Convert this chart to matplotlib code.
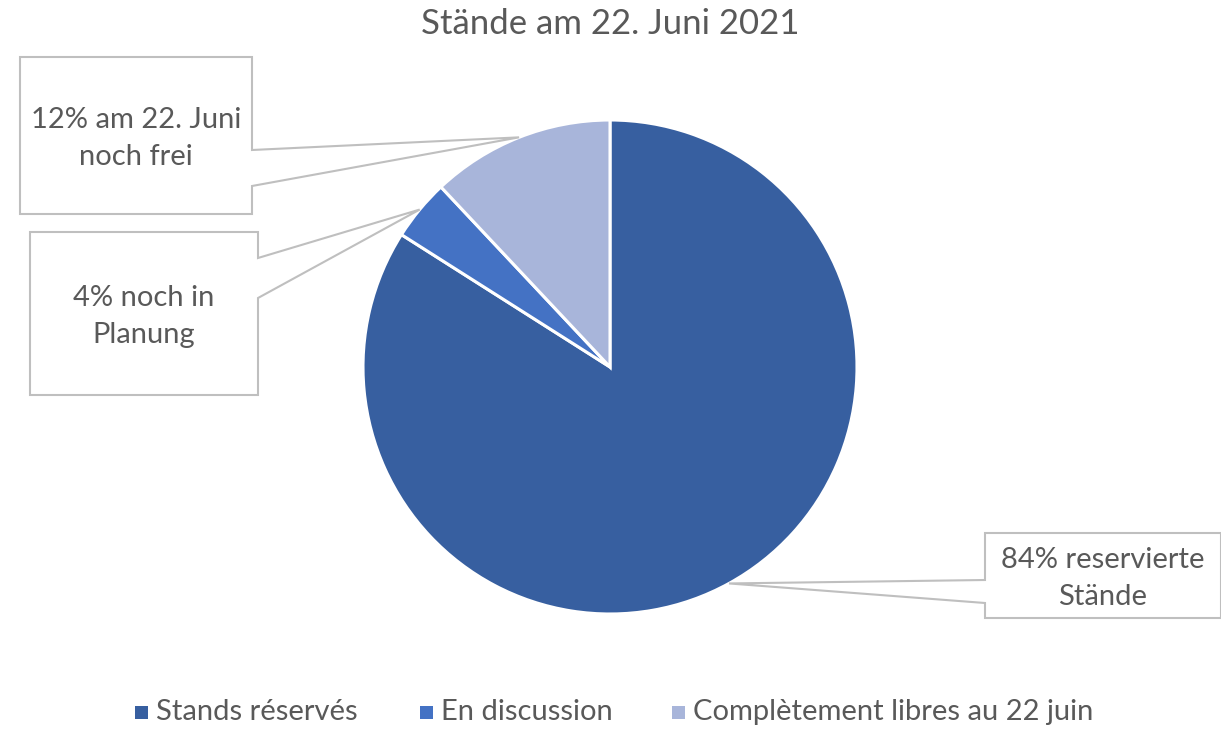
import matplotlib
matplotlib.use("Agg")
import matplotlib.pyplot as plt
from matplotlib.patches import Polygon, Rectangle
import numpy as np

# ---- data ----
title = "Stände am 22. Juni 2021"
categories = ["Stands réservés", "En discussion", "Complètement libres au 22 juin"]
values = [84, 4, 12]
labels = ["84% reservierte\nStände", "4% noch in\nPlanung", "12% am 22. Juni\nnoch frei"]
colors = ["#375FA0", "#4472C4", "#A8B5DA"]

plt.rcParams['font.family'] = ['Lato', 'DejaVu Sans']
TXT = "#595959"
EDGE = "#BFBFBF"

W, H = 1221, 729
fig = plt.figure(figsize=(W / 100, H / 100), dpi=100)
ax = fig.add_axes([0, 0, 1, 1])

cx, cy, R = 610, H - 367, 247
wedges, _ = ax.pie(values, colors=colors, startangle=90, counterclock=False,
                   center=(cx, cy), radius=R, frame=True,
                   wedgeprops=dict(edgecolor="white", linewidth=2.2))
ax.set_xlim(0, W)
ax.set_ylim(0, H)
ax.set_aspect("equal")
ax.axis("off")

# label boxes (pixel coords, y from top): left, top, right, bottom, side, wedge base y1, y2
boxes = [
    (985, 533, 1221, 618, "left", 580, 603),   # 84%
    (30, 232, 258, 395, "right", 258, 298),    # 4%
    (20, 57, 252, 214, "right", 150, 186),     # 12%
]

for w, lab, (l, t, r, b, side, y1, y2) in zip(wedges, labels, boxes):
    mid = np.deg2rad((w.theta1 + w.theta2) / 2)
    tip = (cx + R * np.cos(mid), cy + R * np.sin(mid))
    T, B = H - t, H - b
    Y1, Y2 = H - y1, H - y2
    if side == "right":
        verts = [(l, T), (r, T), (r, Y1), tip, (r, Y2), (r, B), (l, B)]
    else:
        verts = [(l, T), (r, T), (r, B), (l, B), (l, Y2), tip, (l, Y1)]
    ax.add_patch(Polygon(verts, closed=True, facecolor="white", edgecolor=EDGE,
                         linewidth=1.5, zorder=5))
    ax.text((l + r) / 2, (T + B) / 2 - 3, lab, ha="center", va="center",
            fontsize=21, color=TXT, linespacing=1.48, zorder=6)

ax.text(W / 2, H - 24, title, ha="center", va="center", fontsize=25, color=TXT)

# legend
leg_x = [135, 420, 672]
for x, c, name in zip(leg_x, colors, categories):
    ax.add_patch(Rectangle((x, H - 719), 13, 13, facecolor=c, edgecolor="none"))
    ax.text(x + 21, H - 712, name, ha="left", va="center", fontsize=21, color=TXT)

fig.savefig("out.png", dpi=100)
